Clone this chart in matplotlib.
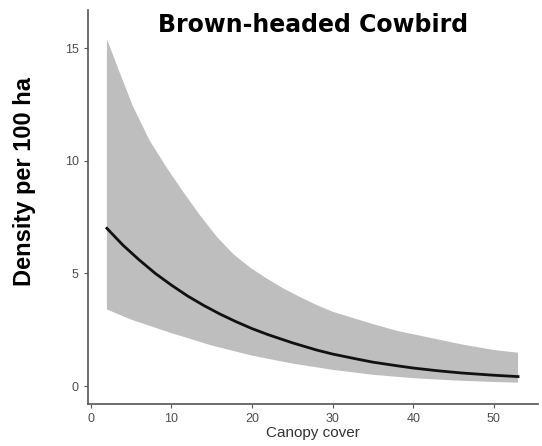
import matplotlib
matplotlib.use("Agg")
import matplotlib.pyplot as plt

# canopy cover values and fitted density (per 100 ha)
canopy = [2, 4, 6, 8, 10, 12, 14, 16, 18, 20, 22, 25, 28, 30, 33, 35, 38, 40, 43, 46, 50, 53]
density = [7.0, 6.25, 5.6, 5.0, 4.48, 4.0, 3.58, 3.2, 2.86, 2.55, 2.28, 1.92, 1.6, 1.42,
           1.2, 1.06, 0.9, 0.8, 0.68, 0.58, 0.48, 0.42]

# confidence band
upper_x = [2, 3.6, 5.25, 7.3, 9.4, 11.5, 13.5, 15.7, 17.7, 19.8, 21.8, 23.8, 25.9, 28, 30,
           32, 35, 38, 40, 42, 46, 50, 53]
upper_y = [15.4, 13.9, 12.4, 10.9, 9.7, 8.6, 7.6, 6.6, 5.85, 5.25, 4.78, 4.35, 3.96, 3.6, 3.3,
           3.08, 2.75, 2.45, 2.3, 2.15, 1.85, 1.6, 1.48]
lower_x = [2, 5, 10, 15, 20, 25, 30, 35, 40, 45, 50, 53]
lower_y = [3.4, 2.95, 2.35, 1.8, 1.35, 1.0, 0.72, 0.5, 0.35, 0.25, 0.18, 0.15]

x_ticks = [0, 10, 20, 30, 40, 50]
y_ticks = [0, 5, 10, 15]

fig = plt.figure(figsize=(5.42, 4.46), dpi=100)
ax = fig.add_axes([0.162, 0.094, 0.831, 0.884])

# band polygon: upper edge left->right, lower edge right->left
poly_x = upper_x + lower_x[::-1]
poly_y = upper_y + lower_y[::-1]
ax.fill(poly_x, poly_y, color="#bebebe", lw=0)
ax.plot(canopy, density, color="#111111", lw=2)

ax.set_xlim(-0.37, 55.5)
ax.set_ylim(-0.8, 16.7)
ax.set_xticks(x_ticks)
ax.set_yticks(y_ticks)

for s in ["top", "right"]:
    ax.spines[s].set_visible(False)
for s in ["left", "bottom"]:
    ax.spines[s].set_color("#555555")
    ax.spines[s].set_linewidth(1.2)
ax.tick_params(colors="#555555", labelcolor="#4d4d4d", labelsize=9, length=3)
for lab in ax.get_xticklabels() + ax.get_yticklabels():
    lab.set_family("Liberation Sans")

ax.set_xlabel("Canopy cover", fontsize=11, color="#333333",
              family="Liberation Sans", labelpad=1)
# y label sits above the axes centre in the original
fig.text(0.046, 1 - 181 / 446, "Density per 100 ha", rotation=90, ha="center", va="center",
         fontsize=17, fontweight="bold", family="Liberation Sans")

fig.text(0.577, 1 - 25 / 446, "Brown-headed Cowbird", ha="center", va="center",
         fontsize=17, fontweight="bold", family="DejaVu Sans")

fig.savefig("out.png", dpi=100)
